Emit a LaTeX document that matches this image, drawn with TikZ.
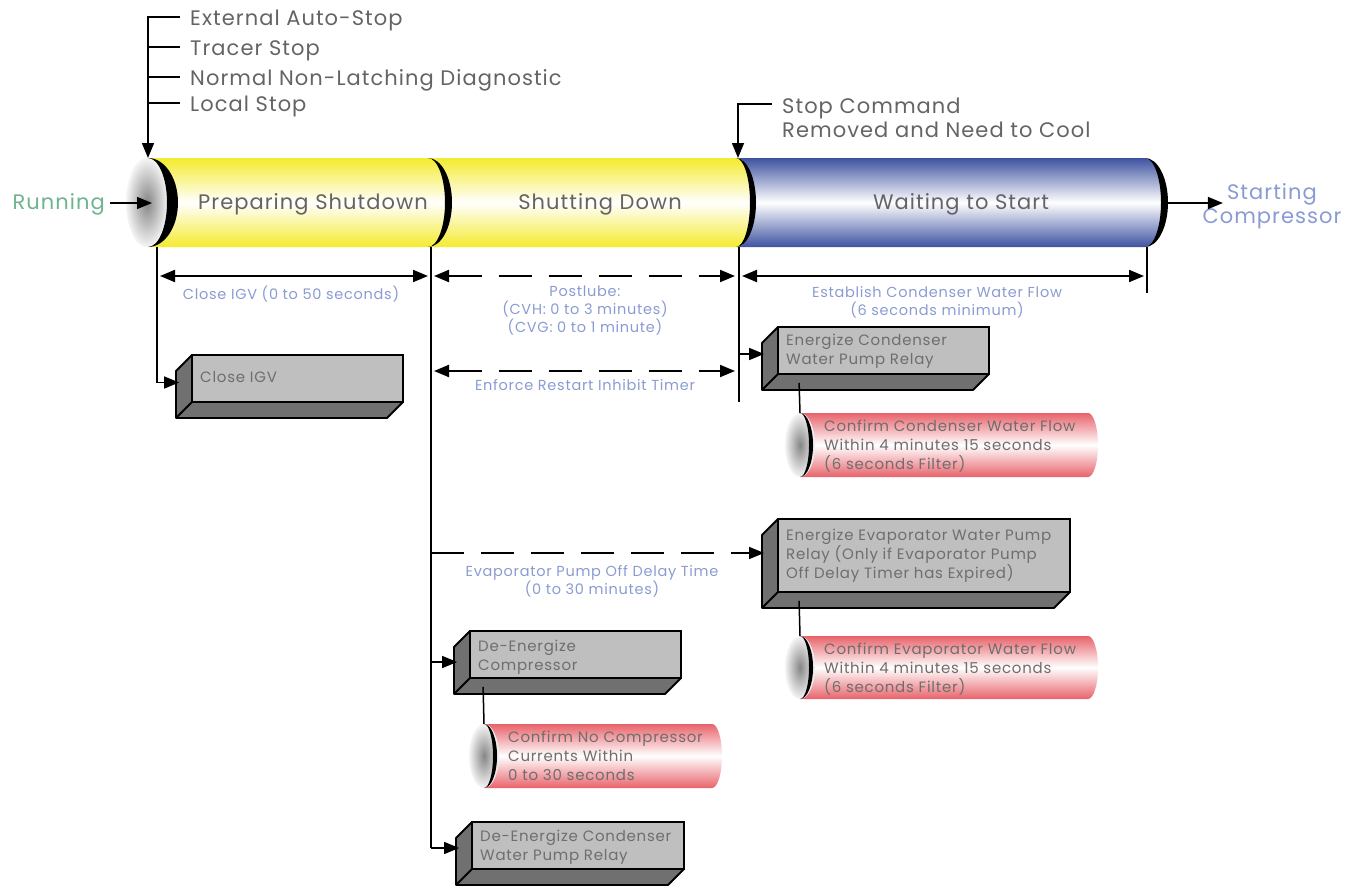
\documentclass[tikz,border=0pt]{standalone}
\usepackage{fontspec}
\setmainfont{Poppins}[LetterSpace=5]
\usetikzlibrary{arrows.meta,calc,fit}
\definecolor{yel}{HTML}{F4EB2E}
\definecolor{blu}{HTML}{3E52A0}
\definecolor{redc}{HTML}{E8636B}
\definecolor{facegray}{HTML}{BFBFBF}
\definecolor{sidegray}{HTML}{707070}
\definecolor{dimc}{HTML}{8A9BD2}
\definecolor{runc}{HTML}{6DB48F}
\definecolor{txt}{HTML}{646464}
\definecolor{btxt}{HTML}{6E6E6E}
\newcommand\tdbox[7]{%
  \path[side] (#2,#3) -- (#2-16,#3+16) -- (#2-16,#5+16) -- (#4-16,#5+16) -- (#4,#5) -- (#2,#5) -- cycle;
  \draw[line width=1.8pt] (#2,#5) -- (#2-16,#5+16);
  \node[face, fit={(#2,#3) (#4,#5)}] (#1) {};
  \node[boxtxt] (#1t) at (#2+8,#3+#7) {#6};
}
\newcommand\cres[5]{%
  \fill (#1,#2) arc[start angle=-90,end angle=90,x radius=#5,y radius={(#3-#2)/2}]
    arc[start angle=90,end angle=-90,x radius=#4,y radius={(#3-#2)/2}] -- cycle;
}
\newcommand\redcyl[6]{%
  \path[top color=redc,bottom color=redc,middle color=white] (#2,#3) -- (#4,#3)
    arc[start angle=-90,end angle=90,x radius=10,y radius={(#5-#3)/2}] -- (#2,#5) -- cycle;
  \shade[inner color=gray!95, outer color=gray!8] (#2,{(#3+#5)/2}) ellipse[x radius=15, y radius={(#5-#3)/2}];
  \cres{#2}{#3}{#5}{9}{13}
  \coordinate (#1top) at (#2,#3);
  \node[boxtxt] (#1) at (#2+24,#3+7) {#6};
}
\begin{document}
\begin{tikzpicture}[x=1pt,y=-1pt,
  tip/.style={-{Triangle[length=15pt,width=12pt]}},
  both/.style={{Triangle[length=15pt,width=12pt]}-{Triangle[length=15pt,width=12pt]}},
  conn/.style={line width=1.5pt},
  dim/.style={line width=2pt},
  dsh/.style={dash pattern=on 33pt off 17pt},
  big/.style={font=\fontsize{21}{25}\selectfont, text=txt, inner sep=0},
  dimtxt/.style={font=\fontsize{14.5}{18}\selectfont, text=dimc, align=center, inner sep=0, anchor=north},
  boxtxt/.style={font=\fontsize{15}{19}\selectfont, text=btxt, align=left, inner sep=0, anchor=north west},
  face/.style={draw=black, fill=facegray, line width=1.8pt, inner sep=0},
  side/.style={draw=black, fill=sidegray, line width=1.8pt, line join=round},
]
\useasboundingbox (0,0) rectangle (1358,886);

% ---------- main pipe ----------
\path[top color=yel,bottom color=yel,middle color=white] (148,158)
  arc[start angle=-90,end angle=90,x radius=26,y radius=44.5] -- (430,247)
  arc[start angle=90,end angle=-90,x radius=20,y radius=44.5] -- cycle;
\path[top color=yel,bottom color=yel,middle color=white] (430,158)
  arc[start angle=-90,end angle=90,x radius=20,y radius=44.5] -- (737,247)
  arc[start angle=90,end angle=-90,x radius=17,y radius=44.5] -- cycle;
\path[top color=blu,bottom color=blu,middle color=white] (737,158)
  arc[start angle=-90,end angle=90,x radius=17,y radius=44.5] -- (1145,247)
  arc[start angle=90,end angle=-90,x radius=19,y radius=44.5] -- cycle;
\shade[inner color=gray!95, outer color=gray!8] (147,202.5) ellipse[x radius=21, y radius=44.5];
\cres{148}{158}{247}{19}{30}
\cres{428}{158}{247}{17}{24}
\cres{736}{158}{247}{14}{20}
\cres{1145}{158}{247}{16}{23}

\coordinate (inA) at (148,158);
\coordinate (inB) at (738,158);

\node[big,anchor=base] (prep) at (313,209) {Preparing Shutdown};
\node[big,anchor=base] (shut) at (600,209) {Shutting Down};
\node[big,anchor=base] (wait) at (961,209) {Waiting to Start};

\node[big,anchor=base east,text=runc] (run) at (105,209) {Running};
\draw[conn,tip] ($(run.base east)+(5,-6)$) -- (152,203);
\node[big,anchor=base,text=dimc,align=center] (start) at (1272,199) {Starting};
\node[big,anchor=base,text=dimc] (comp) at (1272,223) {Compressor};
\draw[conn,tip] (1168,203) -- ($(start.base west)+(-4,4)$);

% ---------- stop inputs ----------
\node[big,anchor=base west] (t1) at (190,25) {External Auto-Stop};
\node[big,anchor=base west] (t2) at (190,55) {Tracer Stop};
\node[big,anchor=base west] (t3) at (190,85) {Normal Non-Latching Diagnostic};
\node[big,anchor=base west] (t4) at (190,111) {Local Stop};
\draw[conn,tip] ($(t1.base west)+(-10,-8)$) -| (inA);
\foreach \t in {t2,t3,t4} \draw[conn] ($(\t.base west)+(-10,-8)$) -- +(-32,0);

\node[big,anchor=base west] (sc1) at (782,113) {Stop Command};
\node[big,anchor=base west] (sc2) at (782,137) {Removed and Need to Cool};
\draw[conn,tip] ($(sc1.base west)+(-10,-9)$) -| (inB);

% ---------- vertical lines ----------
\draw[conn] (431,247) -- (431,848);
\draw[conn] (739,247) -- (739,402);
\draw[conn] (1147,247) -- (1147,293);

% ---------- dimension rows ----------
\draw[dim,both] (160,276) -- (428,276);
\draw[dim,both,dsh] (434,276) -- (735,276);
\draw[dim,both] (742,276) -- (1144,276);
\draw[dim,both,dsh] (434,371) -- (735,371);

\node[dimtxt] (d1) at (291,286) {Close IGV (0 to 50 seconds)};
\node[dimtxt] (d2) at (585,286) {Postlube:\\(CVH:\ 0 to 3 minutes)\\(CVG:\ 0 to 1 minute)};
\node[dimtxt] (d3) at (937,286) {Establish Condenser Water Flow\\(6 seconds minimum)};
\node[dimtxt] (d4) at (585,379) {Enforce Restart Inhibit Timer};
\node[dimtxt] (d5) at (592,565) {Evaporator Pump Off Delay Time\\(0 to 30 minutes)};

% ---------- boxes ----------
\tdbox{igv}{192}{355}{403}{402}{Close IGV}{16}
\tdbox{ecwp}{778}{327}{989}{374}{Energize Condenser\\Water Pump Relay}{7}
\tdbox{eewp}{778}{519}{1070}{592}{Energize Evaporator Water Pump\\Relay (Only if Evaporator Pump\\Off Delay Timer has Expired)}{10}
\tdbox{dec}{470}{631}{681}{678}{De-Energize\\Compressor}{9}
\tdbox{decwp}{472}{822}{684}{869}{De-Energize Condenser\\Water Pump Relay}{8}

% ---------- red cylinders ----------
\redcyl{cfa}{800}{413}{1088}{477}{Confirm Condenser Water Flow\\Within 4 minutes 15 seconds\\(6 seconds Filter)}
\redcyl{cfb}{800}{636}{1088}{699}{Confirm Evaporator Water Flow\\Within 4 minutes 15 seconds\\(6 seconds Filter)}
\redcyl{cfc}{484}{724}{712}{788}{Confirm No Compressor\\Currents Within\\0 to 30 seconds}

% ---------- connectors ----------
\draw[conn,tip] (157,247) |- ($(igv.west)+(-12,4)$);
\draw[conn,tip] (739,354) -- ($(ecwp.west)+(-13,3.5)$);
\draw[conn,tip,dsh] (431,553) -- ($(eewp.west)+(-13,-2.5)$);
\draw[conn,tip] (431,662) -- ($(dec.west)+(-12,7.5)$);
\draw[conn,tip] (431,848) -- ($(decwp.west)+(-12,2.5)$);
\draw[conn] ($(ecwp.south west)+(22,8)$) -- (cfatop);
\draw[conn] ($(eewp.south west)+(22,8)$) -- (cfbtop);
\draw[conn] ($(dec.south west)+(14,8)$) -- (cfctop);
\end{tikzpicture}
\end{document}
